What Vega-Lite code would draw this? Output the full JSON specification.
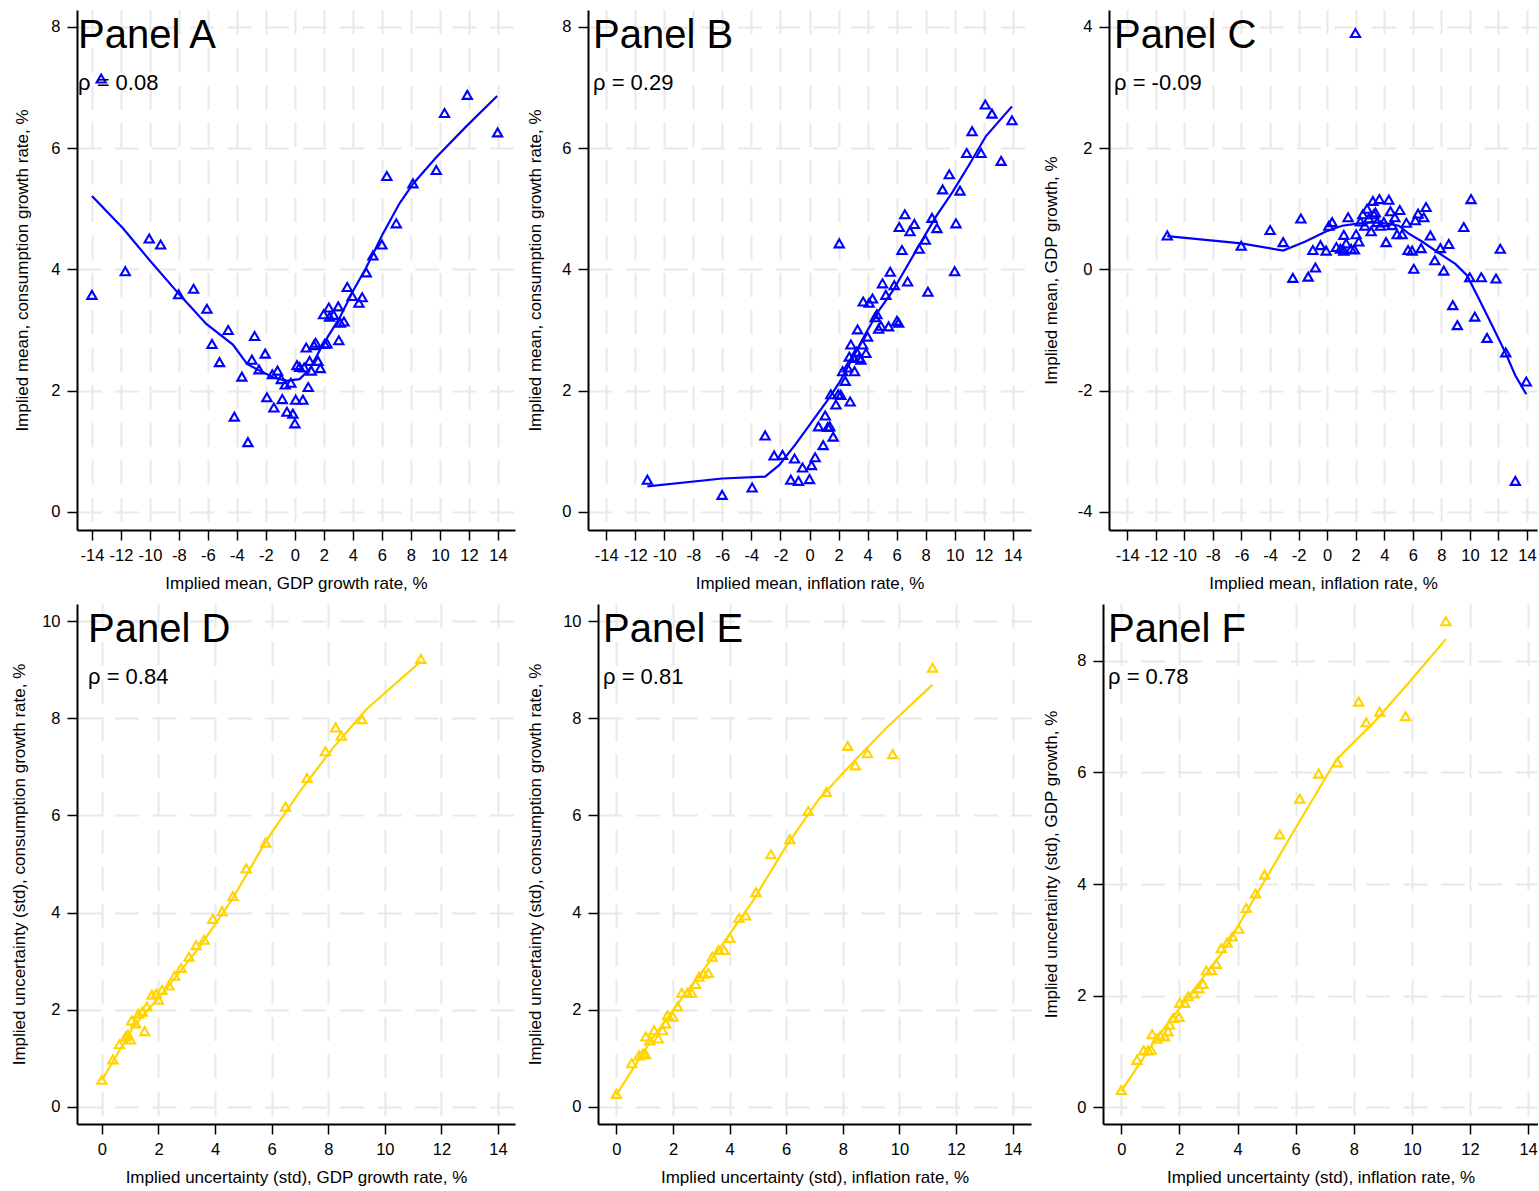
{
  "$schema": "https://vega.github.io/schema/vega-lite/v6.json",
  "background": "white",
  "padding": {"left": 10, "top": 10, "right": 0, "bottom": 0},
  "config": {
    "view": {"stroke": null},
    "font": "Liberation Sans",
    "axis": {
      "labelFont": "Liberation Sans", "titleFont": "Liberation Sans",
      "labelFontSize": 16.5, "titleFontSize": 17, "titleFontWeight": "normal",
      "labelColor": "black", "titleColor": "black",
      "domainColor": "black", "domainWidth": 2,
      "tickColor": "black", "tickWidth": 1.5, "tickSize": 10,
      "labelPadding": 7, "titlePadding": 12,
      "grid": true, "gridColor": "#e8e8e8", "gridWidth": 2, "gridDash": [24, 13.5],
      "labelOverlap": false, "labelFlush": false, "labelBound": false
    },
    "title": {
      "anchor": "start", "frame": "group", "font": "Liberation Sans", "fontSize": 40, "fontWeight": "normal", "color": "black",
      "subtitleFont": "Liberation Sans", "subtitleFontSize": 22, "subtitleColor": "black", "subtitlePadding": 17,
      "offset": -84
    },
    "point": {"shape": "triangle-up", "filled": false, "size": 85, "strokeWidth": 2.1, "opacity": 1},
    "line": {"strokeWidth": 2.2}
  },
  "datasets": {
    "a_pts": [
      {"x": -14, "y": 3.58}, {"x": -13.36, "y": 7.15}, {"x": -11.7, "y": 3.97}, {"x": -10.05, "y": 4.51}, {"x": -9.26, "y": 4.41},
      {"x": -8.02, "y": 3.59}, {"x": -6.99, "y": 3.68}, {"x": -6.07, "y": 3.35}, {"x": -5.72, "y": 2.77}, {"x": -5.2, "y": 2.47},
      {"x": -4.6, "y": 3.0}, {"x": -4.18, "y": 1.57}, {"x": -3.66, "y": 2.23}, {"x": -3.24, "y": 1.15}, {"x": -2.97, "y": 2.51},
      {"x": -2.78, "y": 2.9}, {"x": -2.48, "y": 2.35}, {"x": -2.05, "y": 2.61}, {"x": -1.93, "y": 1.89}, {"x": -1.56, "y": 2.27},
      {"x": -1.45, "y": 1.72}, {"x": -1.2, "y": 2.33}, {"x": -0.94, "y": 2.19}, {"x": -0.87, "y": 1.86}, {"x": -0.67, "y": 2.1},
      {"x": -0.55, "y": 1.65}, {"x": -0.28, "y": 2.13}, {"x": -0.14, "y": 1.62}, {"x": 0, "y": 1.46}, {"x": 0.05, "y": 1.85},
      {"x": 0.14, "y": 2.42}, {"x": 0.32, "y": 2.39}, {"x": 0.55, "y": 1.85}, {"x": 0.64, "y": 2.38}, {"x": 0.78, "y": 2.71},
      {"x": 0.92, "y": 2.06}, {"x": 1.01, "y": 2.49}, {"x": 1.13, "y": 2.33}, {"x": 1.31, "y": 2.75}, {"x": 1.43, "y": 2.79},
      {"x": 1.59, "y": 2.49}, {"x": 1.75, "y": 2.37}, {"x": 1.98, "y": 3.26}, {"x": 2.05, "y": 2.77}, {"x": 2.21, "y": 2.78},
      {"x": 2.34, "y": 3.37}, {"x": 2.39, "y": 3.22}, {"x": 2.67, "y": 3.25}, {"x": 2.99, "y": 3.39}, {"x": 3.03, "y": 2.83},
      {"x": 3.13, "y": 3.12}, {"x": 3.38, "y": 3.14}, {"x": 3.61, "y": 3.71}, {"x": 3.95, "y": 3.56}, {"x": 4.41, "y": 3.45},
      {"x": 4.64, "y": 3.54}, {"x": 4.92, "y": 3.95}, {"x": 5.38, "y": 4.23}, {"x": 6.0, "y": 4.41}, {"x": 6.34, "y": 5.54},
      {"x": 6.99, "y": 4.76}, {"x": 8.14, "y": 5.42}, {"x": 9.75, "y": 5.64}, {"x": 10.32, "y": 6.58}, {"x": 11.89, "y": 6.88},
      {"x": 13.98, "y": 6.26}
    ],
    "a_fit": [
      {"x": -14, "y": 5.21}, {"x": -11.86, "y": 4.68}, {"x": -10.02, "y": 4.15}, {"x": -7.95, "y": 3.58}, {"x": -6.11, "y": 3.1},
      {"x": -4.28, "y": 2.76}, {"x": -3.3, "y": 2.44}, {"x": -2.44, "y": 2.33}, {"x": -1.52, "y": 2.22}, {"x": -0.6, "y": 2.16},
      {"x": 0.32, "y": 2.19}, {"x": 1.01, "y": 2.35}, {"x": 1.93, "y": 2.76}, {"x": 3.08, "y": 3.2}, {"x": 4.0, "y": 3.64},
      {"x": 4.92, "y": 4.03}, {"x": 6.07, "y": 4.59}, {"x": 7.22, "y": 5.09}, {"x": 8.14, "y": 5.41}, {"x": 9.75, "y": 5.85},
      {"x": 11.82, "y": 6.36}, {"x": 13.95, "y": 6.86}
    ],
    "b_pts": [
      {"x": -11.17, "y": 0.53}, {"x": -6.02, "y": 0.28}, {"x": -3.95, "y": 0.4}, {"x": -3.06, "y": 1.26}, {"x": -2.44, "y": 0.93},
      {"x": -1.86, "y": 0.94}, {"x": -1.29, "y": 0.53}, {"x": -1.03, "y": 0.88}, {"x": -0.76, "y": 0.51}, {"x": -0.48, "y": 0.73},
      {"x": 0, "y": 0.54}, {"x": 0.14, "y": 0.77}, {"x": 0.39, "y": 0.9}, {"x": 0.62, "y": 1.41}, {"x": 0.94, "y": 1.1},
      {"x": 1.08, "y": 1.59}, {"x": 1.26, "y": 1.4}, {"x": 1.4, "y": 1.41}, {"x": 1.47, "y": 1.94}, {"x": 1.63, "y": 1.24},
      {"x": 1.82, "y": 1.77}, {"x": 1.98, "y": 1.94}, {"x": 2.05, "y": 4.43}, {"x": 2.16, "y": 1.93}, {"x": 2.28, "y": 2.32},
      {"x": 2.46, "y": 2.16}, {"x": 2.62, "y": 2.38}, {"x": 2.74, "y": 2.56}, {"x": 2.8, "y": 1.82}, {"x": 2.85, "y": 2.76},
      {"x": 3.03, "y": 2.54}, {"x": 3.1, "y": 2.32}, {"x": 3.24, "y": 2.64}, {"x": 3.31, "y": 3.01}, {"x": 3.43, "y": 2.54},
      {"x": 3.54, "y": 2.51}, {"x": 3.66, "y": 2.76}, {"x": 3.7, "y": 3.47}, {"x": 3.89, "y": 2.62}, {"x": 4.0, "y": 2.89},
      {"x": 4.11, "y": 3.45}, {"x": 4.34, "y": 3.52}, {"x": 4.53, "y": 3.21}, {"x": 4.64, "y": 3.26}, {"x": 4.76, "y": 3.02},
      {"x": 4.92, "y": 3.07}, {"x": 5.03, "y": 3.77}, {"x": 5.26, "y": 3.58}, {"x": 5.45, "y": 3.06}, {"x": 5.56, "y": 3.96},
      {"x": 5.84, "y": 3.74}, {"x": 6.02, "y": 3.15}, {"x": 6.14, "y": 3.12}, {"x": 6.18, "y": 4.7}, {"x": 6.37, "y": 4.32},
      {"x": 6.57, "y": 4.91}, {"x": 6.76, "y": 3.8}, {"x": 6.92, "y": 4.63}, {"x": 7.22, "y": 4.75}, {"x": 7.56, "y": 4.34},
      {"x": 7.98, "y": 4.49}, {"x": 8.16, "y": 3.63}, {"x": 8.44, "y": 4.85}, {"x": 8.78, "y": 4.68}, {"x": 9.17, "y": 5.32},
      {"x": 9.63, "y": 5.57}, {"x": 10.0, "y": 3.97}, {"x": 10.09, "y": 4.76}, {"x": 10.37, "y": 5.3}, {"x": 10.83, "y": 5.92},
      {"x": 11.2, "y": 6.28}, {"x": 11.82, "y": 5.92}, {"x": 12.11, "y": 6.72}, {"x": 12.57, "y": 6.57}, {"x": 13.2, "y": 5.79},
      {"x": 13.95, "y": 6.46}
    ],
    "b_fit": [
      {"x": -11.17, "y": 0.42}, {"x": -6.0, "y": 0.55}, {"x": -3.06, "y": 0.58}, {"x": -2.09, "y": 0.77}, {"x": -0.94, "y": 1.12},
      {"x": 0.21, "y": 1.5}, {"x": 1.36, "y": 1.88}, {"x": 2.05, "y": 2.13}, {"x": 2.97, "y": 2.54}, {"x": 3.89, "y": 2.95},
      {"x": 4.8, "y": 3.33}, {"x": 5.72, "y": 3.64}, {"x": 6.64, "y": 4.02}, {"x": 7.56, "y": 4.4}, {"x": 8.71, "y": 4.87},
      {"x": 9.86, "y": 5.28}, {"x": 11.01, "y": 5.73}, {"x": 12.16, "y": 6.2}, {"x": 13.95, "y": 6.69}
    ],
    "c_pts": [
      {"x": -11.2, "y": 0.56}, {"x": -6.02, "y": 0.39}, {"x": -3.99, "y": 0.65}, {"x": -3.08, "y": 0.45}, {"x": -2.4, "y": -0.14},
      {"x": -1.84, "y": 0.84}, {"x": -1.33, "y": -0.12}, {"x": -1.0, "y": 0.32}, {"x": -0.82, "y": 0.03}, {"x": -0.47, "y": 0.4},
      {"x": -0.07, "y": 0.31}, {"x": 0.12, "y": 0.72}, {"x": 0.35, "y": 0.78}, {"x": 0.65, "y": 0.37}, {"x": 0.93, "y": 0.34},
      {"x": 1.17, "y": 0.31}, {"x": 1.17, "y": 0.57}, {"x": 1.33, "y": 0.43}, {"x": 1.47, "y": 0.86}, {"x": 1.68, "y": 0.34},
      {"x": 1.91, "y": 0.33}, {"x": 1.98, "y": 3.9}, {"x": 2.03, "y": 0.58}, {"x": 2.22, "y": 0.46}, {"x": 2.33, "y": 0.79},
      {"x": 2.5, "y": 0.91}, {"x": 2.64, "y": 0.72}, {"x": 2.8, "y": 1.0}, {"x": 2.92, "y": 0.84}, {"x": 3.08, "y": 0.63},
      {"x": 3.2, "y": 1.13}, {"x": 3.27, "y": 0.91}, {"x": 3.38, "y": 0.94}, {"x": 3.5, "y": 0.78}, {"x": 3.66, "y": 1.16},
      {"x": 3.73, "y": 0.72}, {"x": 3.97, "y": 0.78}, {"x": 4.13, "y": 0.45}, {"x": 4.32, "y": 1.15}, {"x": 4.43, "y": 0.96},
      {"x": 4.55, "y": 0.73}, {"x": 4.74, "y": 0.86}, {"x": 4.9, "y": 0.58}, {"x": 5.09, "y": 0.98}, {"x": 5.25, "y": 0.58},
      {"x": 5.55, "y": 0.77}, {"x": 5.67, "y": 0.32}, {"x": 5.95, "y": 0.31}, {"x": 6.07, "y": 0.01}, {"x": 6.18, "y": 0.81},
      {"x": 6.37, "y": 0.92}, {"x": 6.58, "y": 0.35}, {"x": 6.77, "y": 0.86}, {"x": 6.93, "y": 1.03}, {"x": 7.23, "y": 0.56},
      {"x": 7.54, "y": 0.15}, {"x": 7.93, "y": 0.35}, {"x": 8.17, "y": -0.02}, {"x": 8.52, "y": 0.42}, {"x": 8.8, "y": -0.59},
      {"x": 9.12, "y": -0.92}, {"x": 9.57, "y": 0.7}, {"x": 9.99, "y": -0.13}, {"x": 10.08, "y": 1.16}, {"x": 10.34, "y": -0.78},
      {"x": 10.8, "y": -0.13}, {"x": 11.2, "y": -1.13}, {"x": 11.83, "y": -0.15}, {"x": 12.13, "y": 0.34}, {"x": 12.51, "y": -1.37},
      {"x": 13.18, "y": -3.49}, {"x": 13.95, "y": -1.85}
    ],
    "c_fit": [
      {"x": -11.2, "y": 0.55}, {"x": -6.02, "y": 0.43}, {"x": -3.08, "y": 0.31}, {"x": -1.52, "y": 0.46}, {"x": -0.12, "y": 0.62},
      {"x": 1.05, "y": 0.72}, {"x": 2.0, "y": 0.75}, {"x": 3.15, "y": 0.78}, {"x": 4.32, "y": 0.75}, {"x": 5.02, "y": 0.72},
      {"x": 5.72, "y": 0.59}, {"x": 6.65, "y": 0.46}, {"x": 7.82, "y": 0.27}, {"x": 8.98, "y": 0.09}, {"x": 9.8, "y": -0.1},
      {"x": 10.62, "y": -0.48}, {"x": 11.55, "y": -0.92}, {"x": 12.48, "y": -1.37}, {"x": 13.18, "y": -1.75}, {"x": 13.95, "y": -2.06}
    ],
    "d_pts": [
      {"x": 0, "y": 0.56}, {"x": 0.39, "y": 0.98}, {"x": 0.62, "y": 1.29}, {"x": 0.84, "y": 1.45}, {"x": 0.92, "y": 1.49},
      {"x": 1.01, "y": 1.39}, {"x": 1.05, "y": 1.78}, {"x": 1.19, "y": 1.72}, {"x": 1.29, "y": 1.92}, {"x": 1.43, "y": 1.96},
      {"x": 1.51, "y": 1.56}, {"x": 1.59, "y": 2.07}, {"x": 1.77, "y": 2.31}, {"x": 1.92, "y": 2.33}, {"x": 2.0, "y": 2.21},
      {"x": 2.13, "y": 2.41}, {"x": 2.37, "y": 2.5}, {"x": 2.57, "y": 2.7}, {"x": 2.8, "y": 2.86}, {"x": 3.08, "y": 3.09},
      {"x": 3.33, "y": 3.33}, {"x": 3.61, "y": 3.44}, {"x": 3.92, "y": 3.87}, {"x": 4.25, "y": 4.03}, {"x": 4.63, "y": 4.34},
      {"x": 5.1, "y": 4.91}, {"x": 5.79, "y": 5.44}, {"x": 6.49, "y": 6.18}, {"x": 7.25, "y": 6.77}, {"x": 7.9, "y": 7.32},
      {"x": 8.26, "y": 7.81}, {"x": 8.46, "y": 7.64}, {"x": 9.19, "y": 7.98}, {"x": 11.27, "y": 9.22}
    ],
    "d_fit": [
      {"x": 0, "y": 0.55}, {"x": 1.1, "y": 1.64}, {"x": 2.27, "y": 2.43}, {"x": 3.45, "y": 3.29}, {"x": 4.63, "y": 4.3},
      {"x": 5.81, "y": 5.48}, {"x": 6.99, "y": 6.49}, {"x": 8.17, "y": 7.39}, {"x": 9.34, "y": 8.18}, {"x": 11.27, "y": 9.17}
    ],
    "e_pts": [
      {"x": 0, "y": 0.27}, {"x": 0.54, "y": 0.9}, {"x": 0.8, "y": 1.06}, {"x": 0.94, "y": 1.1}, {"x": 1.04, "y": 1.08},
      {"x": 1.04, "y": 1.45}, {"x": 1.18, "y": 1.37}, {"x": 1.33, "y": 1.58}, {"x": 1.48, "y": 1.41}, {"x": 1.63, "y": 1.58},
      {"x": 1.74, "y": 1.72}, {"x": 1.81, "y": 1.89}, {"x": 2.0, "y": 1.86}, {"x": 2.16, "y": 2.07}, {"x": 2.31, "y": 2.35},
      {"x": 2.51, "y": 2.35}, {"x": 2.66, "y": 2.35}, {"x": 2.8, "y": 2.53}, {"x": 2.92, "y": 2.68}, {"x": 3.08, "y": 2.74},
      {"x": 3.25, "y": 2.76}, {"x": 3.39, "y": 3.09}, {"x": 3.61, "y": 3.23}, {"x": 3.81, "y": 3.23}, {"x": 4.01, "y": 3.48},
      {"x": 4.33, "y": 3.89}, {"x": 4.57, "y": 3.94}, {"x": 4.93, "y": 4.42}, {"x": 5.46, "y": 5.2}, {"x": 6.13, "y": 5.51},
      {"x": 6.78, "y": 6.09}, {"x": 7.42, "y": 6.48}, {"x": 8.17, "y": 7.43}, {"x": 8.44, "y": 7.03}, {"x": 8.87, "y": 7.28},
      {"x": 9.76, "y": 7.26}, {"x": 11.17, "y": 9.04}
    ],
    "e_fit": [
      {"x": 0, "y": 0.25}, {"x": 1.27, "y": 1.41}, {"x": 2.45, "y": 2.35}, {"x": 3.63, "y": 3.25}, {"x": 4.81, "y": 4.23},
      {"x": 5.99, "y": 5.36}, {"x": 7.16, "y": 6.34}, {"x": 8.34, "y": 7.08}, {"x": 9.52, "y": 7.79}, {"x": 11.17, "y": 8.69}
    ],
    "f_pts": [
      {"x": 0, "y": 0.31}, {"x": 0.54, "y": 0.85}, {"x": 0.77, "y": 1.02}, {"x": 0.92, "y": 1.02}, {"x": 1.03, "y": 1.03},
      {"x": 1.06, "y": 1.31}, {"x": 1.23, "y": 1.23}, {"x": 1.34, "y": 1.28}, {"x": 1.49, "y": 1.27}, {"x": 1.61, "y": 1.36},
      {"x": 1.66, "y": 1.48}, {"x": 1.78, "y": 1.6}, {"x": 1.99, "y": 1.62}, {"x": 2.01, "y": 1.87}, {"x": 2.18, "y": 1.87},
      {"x": 2.3, "y": 1.99}, {"x": 2.5, "y": 2.04}, {"x": 2.67, "y": 2.13}, {"x": 2.81, "y": 2.21}, {"x": 2.93, "y": 2.45},
      {"x": 3.1, "y": 2.46}, {"x": 3.27, "y": 2.57}, {"x": 3.44, "y": 2.85}, {"x": 3.64, "y": 2.95}, {"x": 3.82, "y": 3.06},
      {"x": 4.04, "y": 3.2}, {"x": 4.3, "y": 3.57}, {"x": 4.62, "y": 3.83}, {"x": 4.93, "y": 4.17}, {"x": 5.45, "y": 4.89},
      {"x": 6.14, "y": 5.53}, {"x": 6.79, "y": 5.98}, {"x": 7.44, "y": 6.18}, {"x": 8.17, "y": 7.27}, {"x": 8.43, "y": 6.9},
      {"x": 8.89, "y": 7.09}, {"x": 9.78, "y": 7.01}, {"x": 11.17, "y": 8.71}
    ],
    "f_fit": [
      {"x": 0, "y": 0.29}, {"x": 1.2, "y": 1.23}, {"x": 2.35, "y": 2.01}, {"x": 3.5, "y": 2.79}, {"x": 4.65, "y": 3.81},
      {"x": 5.8, "y": 4.83}, {"x": 7.4, "y": 6.23}, {"x": 8.66, "y": 6.88}, {"x": 9.81, "y": 7.56}, {"x": 11.17, "y": 8.39}
    ]
  },
  "columns": 1,
  "align": "none",
  "spacing": 12,
  "concat": [
    {
      "spacing": 11,
      "hconcat": [
        {
          "width": 438, "height": 520,
          "title": {"text": "Panel A", "subtitle": "ρ = 0.08", "dx": 1},
          "encoding": {
            "x": {"field": "x", "type": "quantitative", "scale": {"domain": [-15.03, 15.18], "nice": false, "zero": false},
                  "axis": {"values": [-14, -12, -10, -8, -6, -4, -2, 0, 2, 4, 6, 8, 10, 12, 14], "labelOverlap": false, "labelSeparation": -40, "title": "Implied mean, GDP growth rate, %", "labelExpr": "replace(format(datum.value, 'd'), '−', '-')"}},
            "y": {"field": "y", "type": "quantitative", "scale": {"domain": [-0.3, 8.28], "nice": false, "zero": false},
                  "axis": {"values": [0, 2, 4, 6, 8], "labelOverlap": false, "titlePadding": 19, "title": "Implied mean, consumption growth rate, %", "labelExpr": "replace(format(datum.value, 'd'), '−', '-')"}}
          },
          "layer": [
            {"data": {"name": "a_pts"}, "mark": {"type": "point", "color": "#0000ff"}},
            {"data": {"name": "a_fit"}, "mark": {"type": "line", "color": "#0000ff"}}
          ]
        },
        {
          "width": 443, "height": 520,
          "title": {"text": "Panel B", "subtitle": "ρ = 0.29", "dx": 5},
          "encoding": {
            "x": {"field": "x", "type": "quantitative", "scale": {"domain": [-15.26, 15.26], "nice": false, "zero": false},
                  "axis": {"values": [-14, -12, -10, -8, -6, -4, -2, 0, 2, 4, 6, 8, 10, 12, 14], "labelOverlap": false, "labelSeparation": -40, "title": "Implied mean, inflation rate, %", "labelExpr": "replace(format(datum.value, 'd'), '−', '-')"}},
            "y": {"field": "y", "type": "quantitative", "scale": {"domain": [-0.3, 8.28], "nice": false, "zero": false},
                  "axis": {"values": [0, 2, 4, 6, 8], "labelOverlap": false, "titlePadding": 17, "title": "Implied mean, consumption growth rate, %", "labelExpr": "replace(format(datum.value, 'd'), '−', '-')"}}
          },
          "layer": [
            {"data": {"name": "b_pts"}, "mark": {"type": "point", "color": "#0000ff"}},
            {"data": {"name": "b_fit"}, "mark": {"type": "line", "color": "#0000ff"}}
          ]
        },
        {
          "width": 428, "height": 520,
          "title": {"text": "Panel C", "subtitle": "ρ = -0.09", "dx": 5},
          "encoding": {
            "x": {"field": "x", "type": "quantitative", "scale": {"domain": [-15.28, 14.7], "nice": false, "zero": false},
                  "axis": {"values": [-14, -12, -10, -8, -6, -4, -2, 0, 2, 4, 6, 8, 10, 12, 14], "labelOverlap": false, "labelSeparation": -40, "title": "Implied mean, inflation rate, %", "labelExpr": "replace(format(datum.value, 'd'), '−', '-')"}},
            "y": {"field": "y", "type": "quantitative", "scale": {"domain": [-4.3, 4.28], "nice": false, "zero": false},
                  "axis": {"values": [-4, -2, 0, 2, 4], "labelOverlap": false, "titlePadding": 17, "title": "Implied mean, GDP growth, %", "labelExpr": "replace(format(datum.value, 'd'), '−', '-')"}}
          },
          "layer": [
            {"data": {"name": "c_pts"}, "mark": {"type": "point", "color": "#0000ff"}},
            {"data": {"name": "c_fit"}, "mark": {"type": "line", "color": "#0000ff"}}
          ]
        }
      ]
    },
    {
      "spacing": 11,
      "hconcat": [
        {
          "width": 438, "height": 520,
          "title": {"text": "Panel D", "subtitle": "ρ = 0.84", "dx": 11},
          "encoding": {
            "x": {"field": "x", "type": "quantitative", "scale": {"domain": [-0.88, 14.6], "nice": false, "zero": false},
                  "axis": {"values": [0, 2, 4, 6, 8, 10, 12, 14], "format": "d", "labelOverlap": false, "title": "Implied uncertainty (std), GDP growth rate, %"}},
            "y": {"field": "y", "type": "quantitative", "scale": {"domain": [-0.35, 10.35], "nice": false, "zero": false},
                  "axis": {"values": [0, 2, 4, 6, 8, 10], "format": "d", "labelOverlap": false, "titlePadding": 13, "title": "Implied uncertainty (std), consumption growth rate, %"}}
          },
          "layer": [
            {"data": {"name": "d_pts"}, "mark": {"type": "point", "color": "#FFD400"}},
            {"data": {"name": "d_fit"}, "mark": {"type": "line", "color": "#FFD400"}}
          ]
        },
        {
          "width": 433, "height": 520,
          "title": {"text": "Panel E", "subtitle": "ρ = 0.81", "dx": 5},
          "encoding": {
            "x": {"field": "x", "type": "quantitative", "scale": {"domain": [-0.65, 14.65], "nice": false, "zero": false},
                  "axis": {"values": [0, 2, 4, 6, 8, 10, 12, 14], "format": "d", "labelOverlap": false, "title": "Implied uncertainty (std), inflation rate, %"}},
            "y": {"field": "y", "type": "quantitative", "scale": {"domain": [-0.35, 10.35], "nice": false, "zero": false},
                  "axis": {"values": [0, 2, 4, 6, 8, 10], "format": "d", "labelOverlap": false, "titlePadding": 18, "title": "Implied uncertainty (std), consumption growth rate, %"}}
          },
          "layer": [
            {"data": {"name": "e_pts"}, "mark": {"type": "point", "color": "#FFD400"}},
            {"data": {"name": "e_fit"}, "mark": {"type": "line", "color": "#FFD400"}}
          ]
        },
        {
          "width": 435, "height": 520,
          "title": {"text": "Panel F", "subtitle": "ρ = 0.78", "dx": 5},
          "encoding": {
            "x": {"field": "x", "type": "quantitative", "scale": {"domain": [-0.63, 14.34], "nice": false, "zero": false},
                  "axis": {"values": [0, 2, 4, 6, 8, 10, 12, 14], "format": "d", "labelOverlap": false, "title": "Implied uncertainty (std), inflation rate, %"}},
            "y": {"field": "y", "type": "quantitative", "scale": {"domain": [-0.3, 9.02], "nice": false, "zero": false},
                  "axis": {"values": [0, 2, 4, 6, 8], "format": "d", "labelOverlap": false, "titlePadding": 16, "title": "Implied uncertainty (std), GDP growth, %"}}
          },
          "layer": [
            {"data": {"name": "f_pts"}, "mark": {"type": "point", "color": "#FFD400"}},
            {"data": {"name": "f_fit"}, "mark": {"type": "line", "color": "#FFD400"}}
          ]
        }
      ]
    }
  ]
}
